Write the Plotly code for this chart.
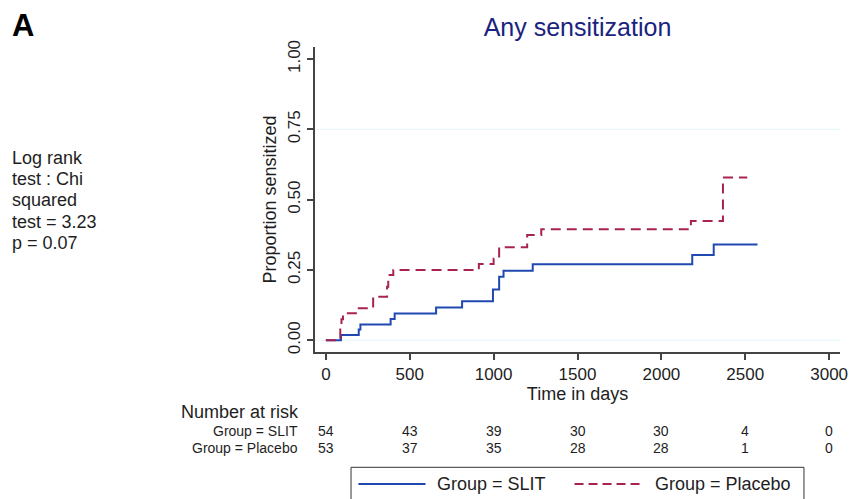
import plotly.graph_objects as go

# ---- data ----
slit_days = [0, 90, 196, 206, 386, 410, 657, 812, 996, 1033, 1059, 1233, 2184, 2312, 2573]
slit_prop = [0.0, 0.019, 0.038, 0.056, 0.076, 0.095, 0.117, 0.139, 0.181, 0.226, 0.247, 0.270, 0.303, 0.341, 0.341]

placebo_days = [0, 86, 93, 102, 196, 282, 365, 372, 402, 912, 1000, 1033, 1200, 1284, 2176, 2367, 2512]
placebo_prop = [0.0, 0.038, 0.075, 0.096, 0.114, 0.155, 0.190, 0.232, 0.250, 0.271, 0.290, 0.331, 0.374, 0.395, 0.424, 0.579, 0.579]

risk_times = [0, 500, 1000, 1500, 2000, 2500, 3000]
risk_slit = [54, 43, 39, 30, 30, 4, 0]
risk_placebo = [53, 37, 35, 28, 28, 1, 0]

y_ticks = [0, 0.25, 0.5, 0.75, 1.0]
y_ticktext = ["0.00", "0.25", "0.50", "0.75", "1.00"]
x_ticks = [0, 500, 1000, 1500, 2000, 2500, 3000]

stats_lines = ["Log rank", "test : Chi", "squared", "test = 3.23", "p = 0.07"]

BLUE = "#1f48b0"
RED = "#a8234f"
FONT = "Liberation Sans, Arial, sans-serif"

W, H = 860, 499
L, R, T, B = 315, 847, 47, 352


def px_x(px):
    return (px - L) / (R - L)


def px_y(py):
    return (B - py) / (B - T)


fig = go.Figure()
fig.add_trace(go.Scatter(x=slit_days, y=slit_prop, mode="lines", line_shape="hv",
                         line=dict(color=BLUE, width=2), name="Group = SLIT", showlegend=False))
fig.add_trace(go.Scatter(x=placebo_days, y=placebo_prop, mode="lines", line_shape="hv",
                         line=dict(color=RED, width=2, dash="10px,6px"), name="Group = Placebo",
                         showlegend=False))

shapes = []
# faint grid lines
for gy in [0, 0.75]:
    shapes.append(dict(type="line", xref="paper", yref="y", x0=0, x1=1, y0=gy, y1=gy,
                       line=dict(color="#e3f3f8", width=1), layer="below"))

# legend box
shapes.append(dict(type="rect", xref="paper", yref="paper",
                   x0=px_x(351.5), x1=px_x(810.5), y0=px_y(505), y1=px_y(467.3),
                   line=dict(color="#333333", width=1), fillcolor="rgba(0,0,0,0)"))
shapes.append(dict(type="line", xref="paper", yref="paper", x0=px_x(359), x1=px_x(427),
                   y0=px_y(484), y1=px_y(484), line=dict(color=BLUE, width=2)))
shapes.append(dict(type="line", xref="paper", yref="paper", x0=px_x(578), x1=px_x(648),
                   y0=px_y(484), y1=px_y(484), line=dict(color=RED, width=2, dash="9px,5px")))

ann = []
ann.append(dict(text="Group = SLIT", xref="paper", yref="paper", x=px_x(437), y=px_y(484),
                xanchor="left", yanchor="middle", showarrow=False,
                font=dict(size=18, color="#1e1e1e", family=FONT)))
ann.append(dict(text="Group = Placebo", xref="paper", yref="paper", x=px_x(658), y=px_y(484),
                xanchor="left", yanchor="middle", showarrow=False,
                font=dict(size=18, color="#1e1e1e", family=FONT)))

# panel letter
ann.append(dict(text="<b>A</b>", xref="paper", yref="paper", x=px_x(6), y=px_y(26),
                xanchor="left", yanchor="middle", showarrow=False,
                font=dict(size=31, color="#000000", family=FONT)))

# stats text
for i, line in enumerate(stats_lines):
    ann.append(dict(text=line, xref="paper", yref="paper", x=px_x(6), y=px_y(157.5 + 21.4 * i),
                    xanchor="left", yanchor="middle", showarrow=False,
                    font=dict(size=18, color="#1e1e1e", family=FONT)))

# number at risk table
ann.append(dict(text="Number at risk", xref="paper", yref="paper", x=px_x(177), y=px_y(411.5),
                xanchor="left", yanchor="middle", showarrow=False,
                font=dict(size=18, color="#1e1e1e", family=FONT)))
ann.append(dict(text="Group = SLIT", xref="paper", yref="paper", x=px_x(300), y=px_y(431.5),
                xanchor="right", yanchor="middle", showarrow=False,
                font=dict(size=14, color="#1e1e1e", family=FONT)))
ann.append(dict(text="Group = Placebo", xref="paper", yref="paper", x=px_x(300), y=px_y(447.5),
                xanchor="right", yanchor="middle", showarrow=False,
                font=dict(size=14, color="#1e1e1e", family=FONT)))
for t, a, b in zip(risk_times, risk_slit, risk_placebo):
    ann.append(dict(text=str(a), xref="x", yref="paper", x=t, y=px_y(431.5),
                    xanchor="center", yanchor="middle", showarrow=False,
                    font=dict(size=14, color="#1e1e1e", family=FONT)))
    ann.append(dict(text=str(b), xref="x", yref="paper", x=t, y=px_y(447.5),
                    xanchor="center", yanchor="middle", showarrow=False,
                    font=dict(size=14, color="#1e1e1e", family=FONT)))

x_range = [(L - 326) / 0.17, (R - 326) / 0.17]
y0pix, y1pix = 340.3, 59.0
ppu = y0pix - y1pix
y_range = [-(B - y0pix) / ppu, (y0pix - T) / ppu]

fig.update_layout(
    width=W, height=H,
    margin=dict(l=L, r=W - R, t=T, b=H - B),
    paper_bgcolor="white", plot_bgcolor="white",
    font=dict(family=FONT, size=17, color="#1e1e1e"),
    showlegend=False,
    title=dict(text="Any sensitization", x=0.5, xref="paper", xanchor="center",
               y=1 - 27 / H, yref="container", yanchor="middle",
               font=dict(size=25, color="#1a237e", family=FONT)),
    xaxis=dict(range=x_range, tickvals=x_ticks, showgrid=False, zeroline=False,
               showline=True, linecolor="#444444", linewidth=1.5,
               ticks="outside", ticklen=6, tickcolor="#444444", tickwidth=1.5,
               tickfont=dict(size=17, color="#1e1e1e"),
               title=dict(text="Time in days", font=dict(size=18, color="#1e1e1e"), standoff=2)),
    yaxis=dict(range=y_range, tickvals=y_ticks, ticktext=y_ticktext, tickangle=-90,
               showgrid=False, zeroline=False,
               showline=True, linecolor="#444444", linewidth=1.5,
               ticks="outside", ticklen=6, tickcolor="#444444", tickwidth=1.5,
               tickfont=dict(size=17, color="#1e1e1e"),
               title=dict(text="Proportion sensitized", font=dict(size=18, color="#1e1e1e"), standoff=4)),
    shapes=shapes,
    annotations=ann,
)

fig.write_html("out.html", config={"displayModeBar": False},
               post_script="document.body.style.margin='0';document.body.style.overflow='hidden';")
